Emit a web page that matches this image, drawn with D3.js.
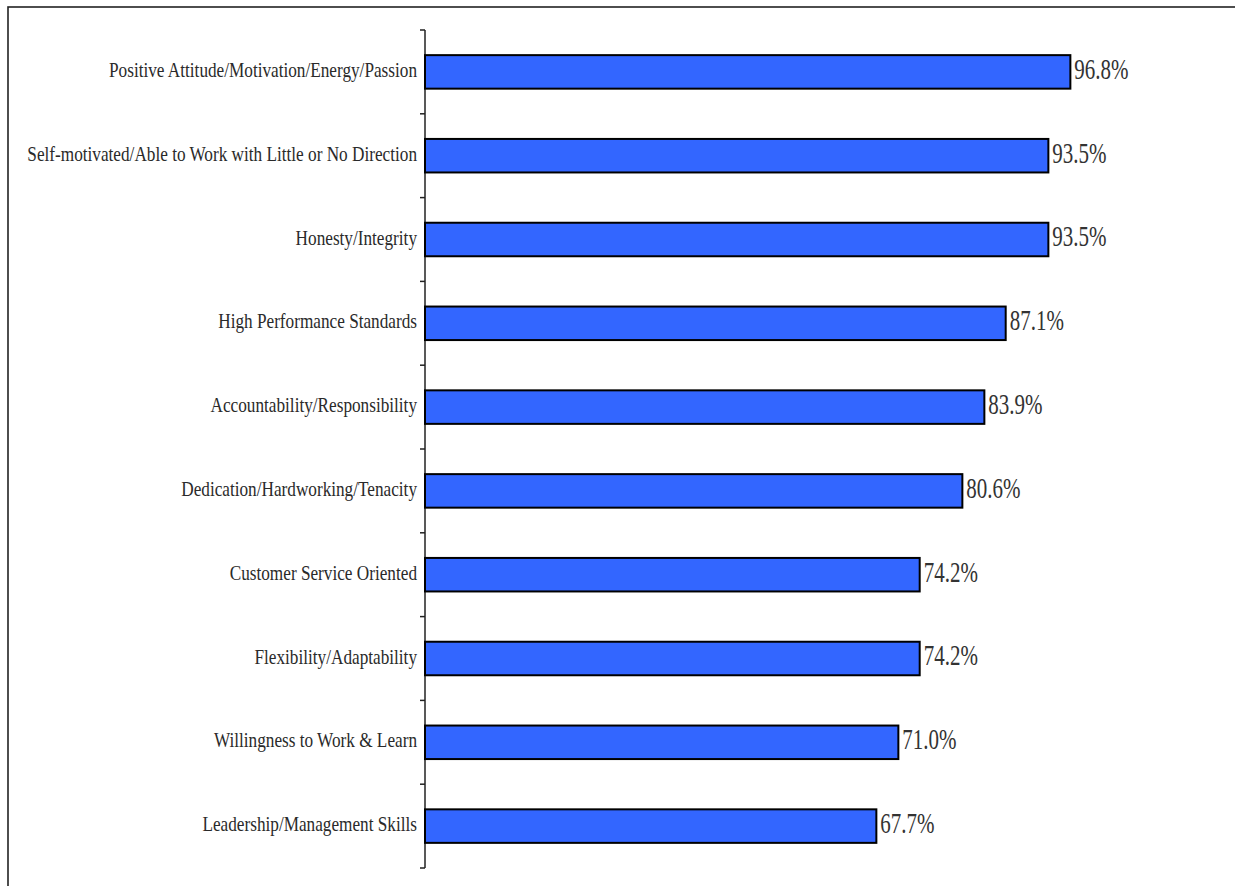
<!DOCTYPE html>
<html>
<head>
<meta charset="utf-8">
<script src="https://cdn.jsdelivr.net/npm/d3@7"></script>
<style>
  body { margin: 0; background: #fff; }
</style>
</head>
<body>
<script>
const width = 1235, height = 886;

const categories = [
    "Positive Attitude/Motivation/Energy/Passion",
    "Self-motivated/Able to Work with Little or No Direction",
    "Honesty/Integrity",
    "High Performance Standards",
    "Accountability/Responsibility",
    "Dedication/Hardworking/Tenacity",
    "Customer Service Oriented",
    "Flexibility/Adaptability",
    "Willingness to Work & Learn",
    "Leadership/Management Skills"
];
const values = [96.8, 93.5, 93.5, 87.1, 83.9, 80.6, 74.2, 74.2, 71.0, 67.7];

const serif = "'Liberation Serif', 'Times New Roman', 'DejaVu Serif', serif";

const svg = d3.select("body").append("svg").attr("width", width).attr("height", height);

// outer frame (runs off the right and bottom edge)
svg.append("rect")
    .attr("x", 8).attr("y", 7)
    .attr("width", width + 20).attr("height", height + 20)
    .attr("fill", "none").attr("stroke", "#222").attr("stroke-width", 1.6);

const x = d3.scaleLinear().domain([0, 100]).range([425, 1091.7]);
const y = d3.scaleBand().domain(categories).range([30, 868])
    .paddingInner(0.6).paddingOuter(0.3);
const step = y.step();

const data = categories.map((c, i) => ({ name: c, value: values[i] }));

// axis line + boundary ticks
const axis = svg.append("g");
axis.append("line")
    .attr("x1", x(0)).attr("x2", x(0))
    .attr("y1", y.range()[0]).attr("y2", y.range()[1])
    .attr("stroke", "#222").attr("stroke-width", 1.5);
const tickYs = categories.map(c => y(c) - step * 0.3).concat([y.range()[1]]);
axis.selectAll(".tick").data(tickYs).enter().append("line")
    .attr("x1", x(0) - 5).attr("x2", x(0))
    .attr("y1", d => d).attr("y2", d => d)
    .attr("stroke", "#222").attr("stroke-width", 1.5);

// bars
svg.append("g").selectAll("rect").data(data).enter().append("rect")
    .attr("x", x(0))
    .attr("y", d => y(d.name))
    .attr("width", d => x(d.value) - x(0))
    .attr("height", y.bandwidth())
    .attr("fill", "#3366ff")
    .attr("stroke", "#000")
    .attr("stroke-width", 2);

// category labels (narrow serif)
svg.append("g").selectAll("text").data(data).enter().append("text")
    .attr("transform", d => `translate(417, ${y(d.name) + y.bandwidth() / 2 - 2}) scale(0.82, 1)`)
    .attr("text-anchor", "end")
    .attr("dominant-baseline", "central")
    .attr("font-family", serif)
    .attr("font-size", 21)
    .attr("fill", "#2a2a2a")
    .text(d => d.name);

// value labels
svg.append("g").selectAll("text").data(data).enter().append("text")
    .attr("transform", d => `translate(${x(d.value) + 4}, ${y(d.name) + y.bandwidth() / 2 - 3}) scale(0.7, 1)`)
    .attr("dominant-baseline", "central")
    .attr("font-family", serif)
    .attr("font-size", 30)
    .attr("fill", "#333")
    .text(d => d.value.toFixed(1) + "%");
</script>
</body>
</html>
